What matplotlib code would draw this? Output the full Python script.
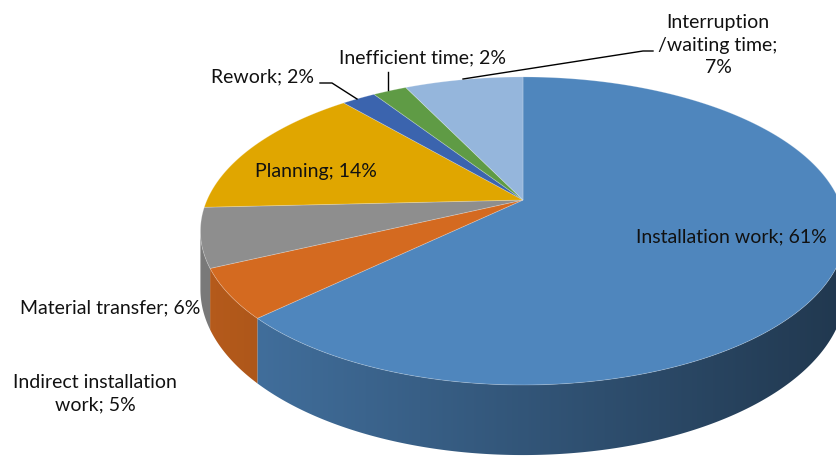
import numpy as np
import matplotlib.pyplot as plt
from matplotlib.colors import to_rgb
from matplotlib.patches import Polygon

# slice data, clockwise from 12 o'clock
labels = ["Installation work", "Indirect installation\nwork", "Material transfer",
          "Planning", "Rework", "Inefficient time", "Interruption\n/waiting time"]
values = [61, 5, 6, 14, 2, 2, 7]
colors = ["#4F86BD", "#D46A20", "#8E8E8E", "#E0A600", "#3B64AE", "#5F9B45", "#95B6DC"]

# label layout (pixel coords) and separators between name and value
label_pos = [(731, 237), (95, 394), (110, 308), (316, 172), (263, 77), (423, 58), (718, 45)]
label_sep = ["; ", "; ", "; ", "; ", "; ", "; ", ";\n"]
leaders = {
    4: [(320, 83), (332, 83), (357, 99)],
    5: [(388, 72), (388, 90)],
    6: [(463, 79), (643, 51), (653, 51)],
}

W, H = 837, 457
fig = plt.figure(figsize=(W / 100, H / 100), dpi=100)
ax = fig.add_axes([0, 0, 1, 1])
ax.set_xlim(0, W)
ax.set_ylim(H, 0)
ax.axis('off')

# simple perspective projection of the tilted disc
cx, cy = 523, 200
A, B, k, depth = 316, 147.8, 0.201, 56


def project(theta, drop=0.0):
    u, v = np.sin(theta), np.cos(theta)
    w = 1 + k * v
    return cx + A * u / w, cy - B * v / w + drop / w


vals = np.array(values, dtype=float)
bounds = np.concatenate([[0], np.cumsum(vals) / vals.sum() * 2 * np.pi])

# side walls (front part only), horizontal gradient clipped to the wall shape
vis0 = np.arccos(-k)
vis1 = 2 * np.pi - vis0
gx = np.arange(0, W + 1)
fac = np.clip(0.86 - 0.44 * (gx - 200) / 640, 0.3, 1)
for i, col in enumerate(colors):
    a0, a1 = max(bounds[i], vis0), min(bounds[i + 1], vis1)
    if a1 <= a0:
        continue
    th = np.linspace(a0, a1, 200)
    xt, yt = project(th)
    xb, yb = project(th[::-1], depth)
    pts = list(zip(xt, yt)) + list(zip(xb, yb))
    wall = Polygon(pts, closed=True, facecolor='none', edgecolor='none')
    ax.add_patch(wall)
    grad = np.clip(np.outer(fac, to_rgb(col)), 0, 1)[None, :, :]
    im = ax.imshow(grad, extent=(0, W + 1, H, 0), aspect='auto',
                   interpolation='bilinear', zorder=1)
    im.set_clip_path(wall)

# top faces
for i, col in enumerate(colors):
    th = np.linspace(bounds[i], bounds[i + 1], 200)
    xs, ys = project(th)
    pts = [(cx, cy)] + list(zip(xs, ys))
    ax.add_patch(Polygon(pts, closed=True, facecolor=col,
                         edgecolor=(1, 1, 1, 0.25), lw=0.6, zorder=2))

ax.set_xlim(0, W)
ax.set_ylim(H, 0)

# labels
for i, (lab, v) in enumerate(zip(labels, values)):
    x, y = label_pos[i]
    ax.text(x, y, f"{lab}{label_sep[i]}{v}%", ha='center', va='center',
            multialignment='center', fontsize=14, family='Lato',
            color='#111111', linespacing=1.4, zorder=5)

for pts in leaders.values():
    xs, ys = zip(*pts)
    ax.plot(xs, ys, color='black', lw=1.0, zorder=5)

fig.savefig('out.png', dpi=100)
